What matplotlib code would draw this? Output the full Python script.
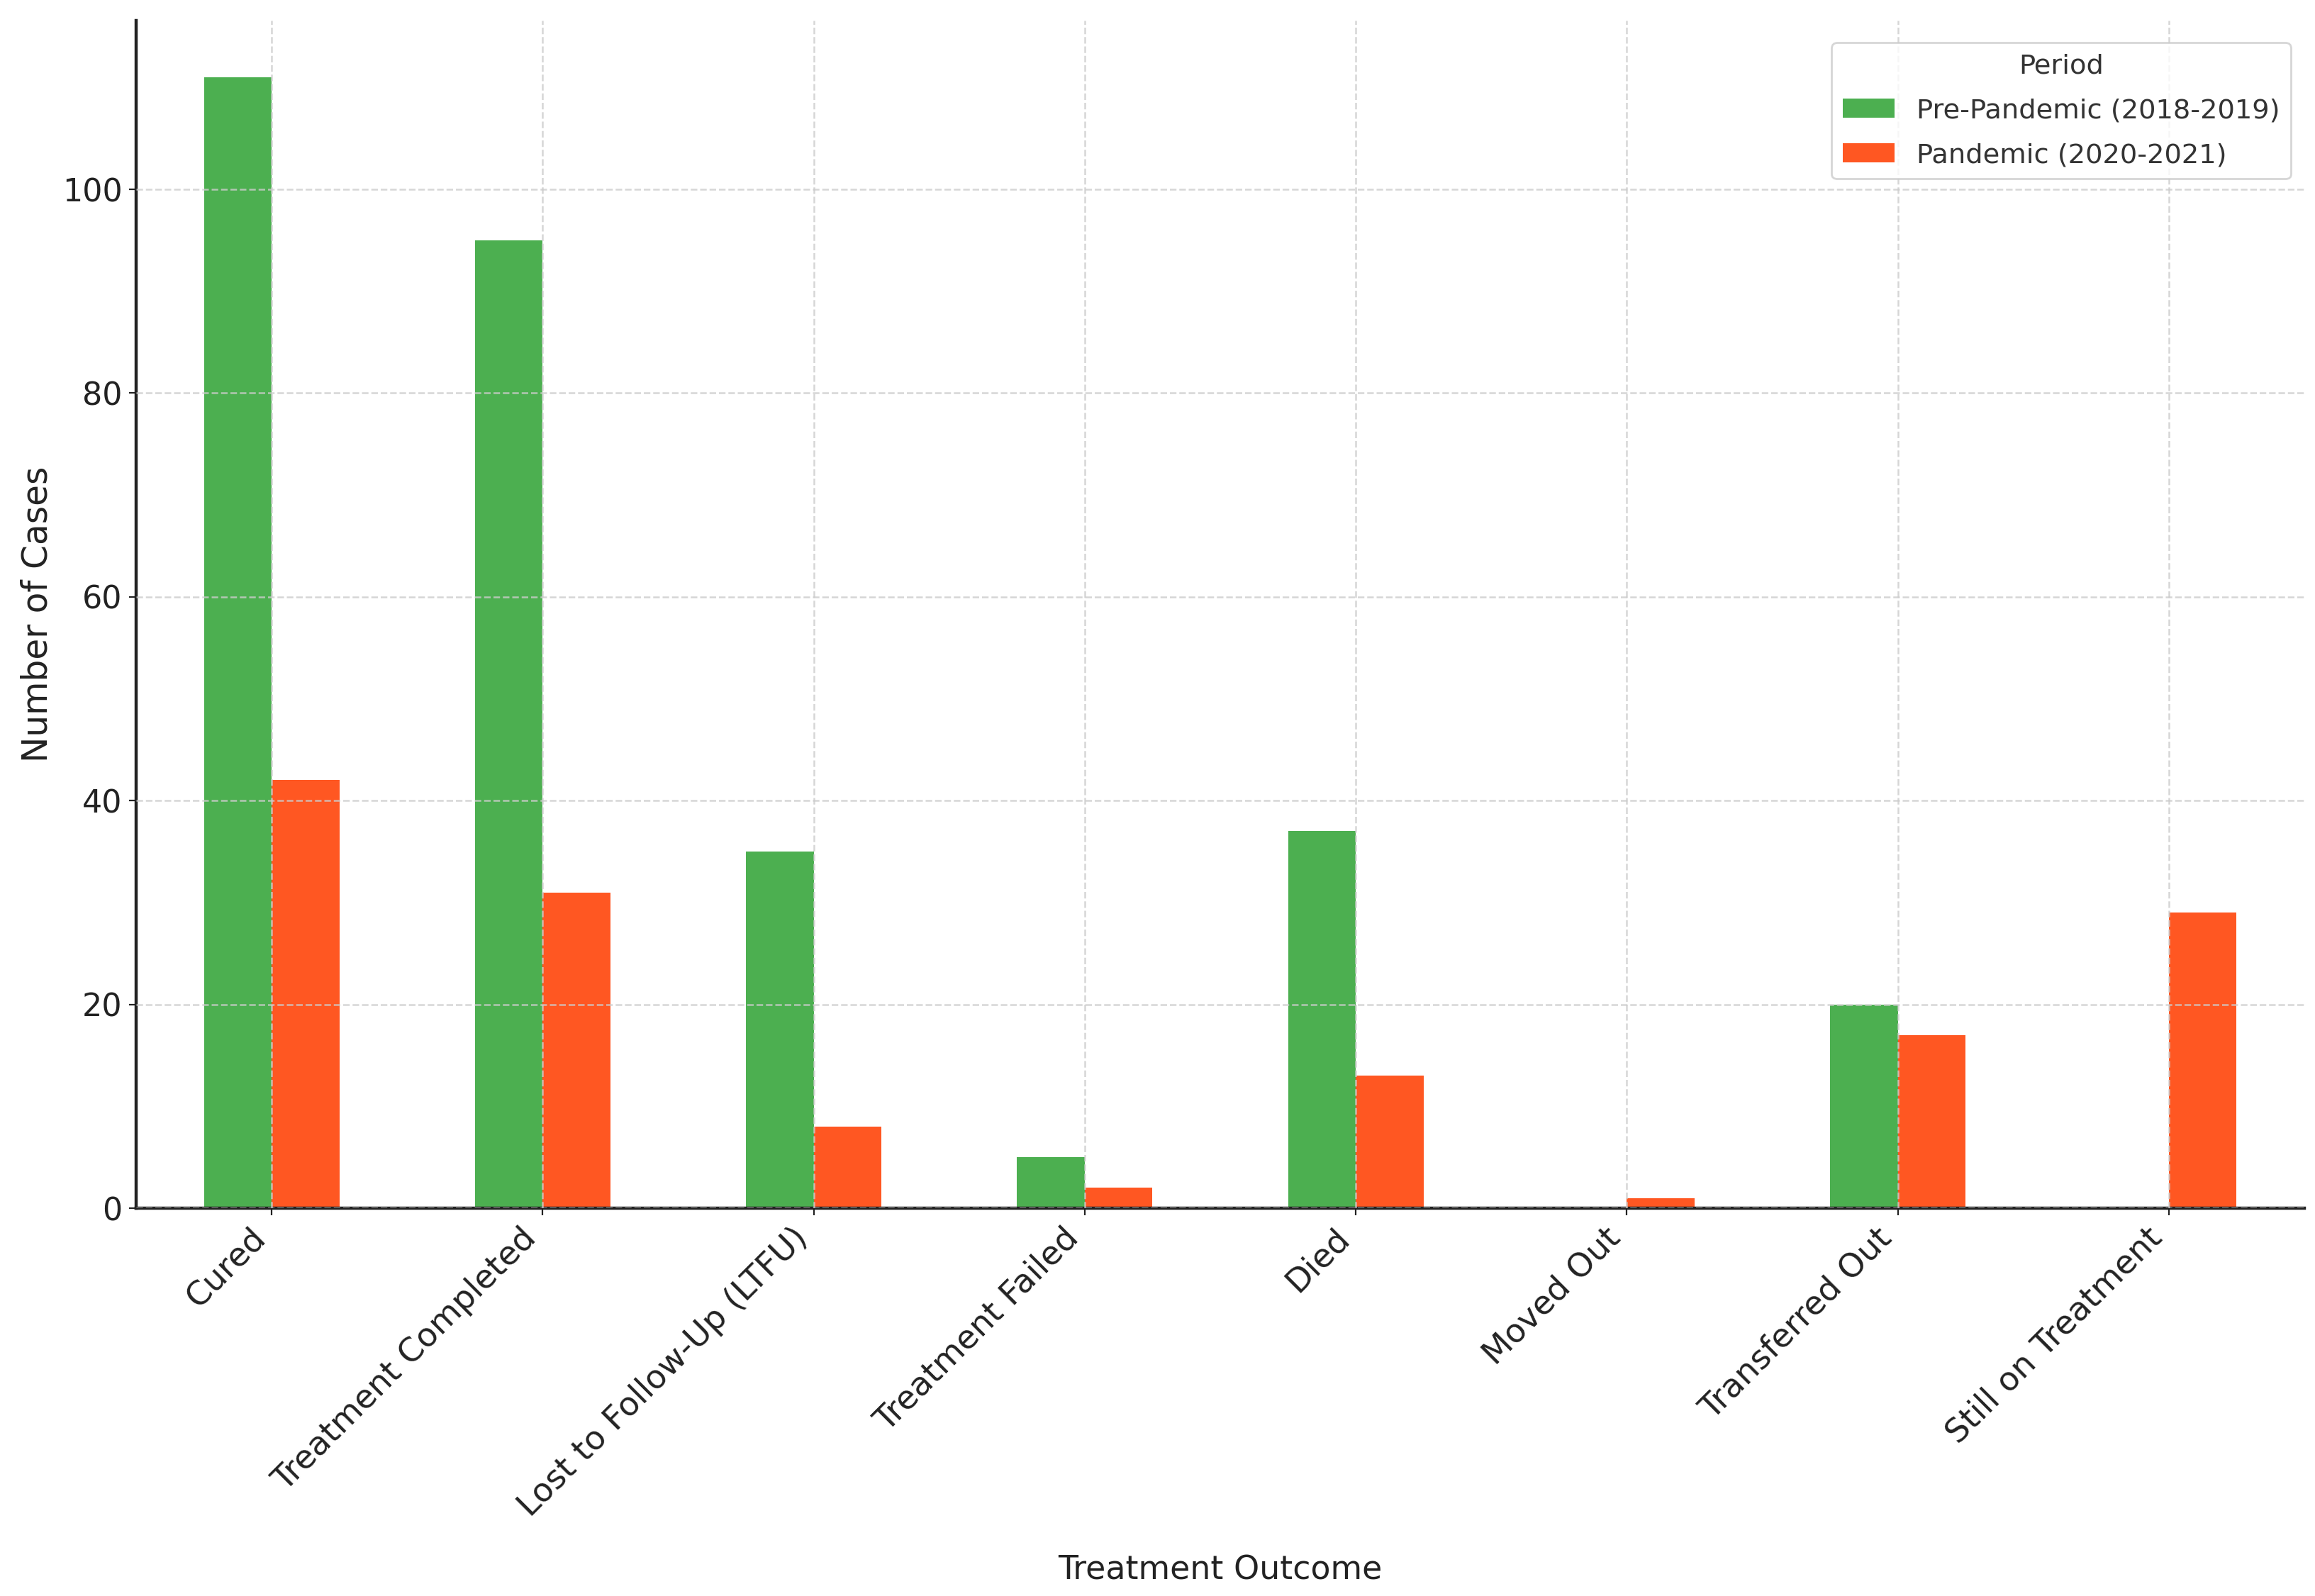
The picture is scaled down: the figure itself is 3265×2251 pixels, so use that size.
import matplotlib
matplotlib.use("Agg")
import matplotlib.pyplot as plt
import numpy as np
import pandas as pd

outcomes = ["Cured", "Treatment Completed", "Lost to Follow-Up (LTFU)", "Treatment Failed",
            "Died", "Moved Out", "Transferred Out", "Still on Treatment"]
pre_pandemic = [111, 95, 35, 5, 37, 0, 20, 0]
pandemic = [42, 31, 8, 2, 13, 1, 17, 29]
series_names = ["Pre-Pandemic (2018-2019)", "Pandemic (2020-2021)"]
colors = ["#4CAF50", "#FF5722"]

df = pd.DataFrame({series_names[0]: pre_pandemic, series_names[1]: pandemic}, index=outcomes)

plt.rcParams['font.family'] = ['DejaVu Sans']

fig = plt.figure(figsize=(16.33, 11.255), dpi=200)
ax = fig.add_axes([0.0588, 0.243, 0.9363, 0.744])

df.plot(kind="bar", ax=ax, color=colors, width=0.5, legend=False)

ax.set_xlabel("Treatment Outcome", fontsize=16.5, color="#222222", labelpad=16)
ax.set_ylabel("Number of Cases", fontsize=17.5, color="#222222")
ax.set_xticklabels(outcomes, rotation=45, ha="right", fontsize=16.7, color="#222222")
ax.tick_params(axis="y", labelsize=16, colors="#222222")
ax.tick_params(axis="x", colors="#222222")

ax.grid(True, linestyle="--", color="#cccccc", linewidth=0.9, alpha=0.8)
ax.set_axisbelow(False)

for s in ["top", "right"]:
    ax.spines[s].set_visible(False)
for s in ["left", "bottom"]:
    ax.spines[s].set_color("#222222")
    ax.spines[s].set_linewidth(1.6)

leg = ax.legend(title="Period", loc="upper right", bbox_to_anchor=(1.0, 0.993),
                fontsize=13.8, title_fontsize=13.8,
                frameon=True, fancybox=True, handlelength=1.9, handletextpad=0.82,
                labelspacing=0.7)
leg.get_frame().set_edgecolor("#cccccc")
for t in leg.get_texts():
    t.set_color("#333333")
leg.get_title().set_color("#333333")

fig.savefig("out.png", dpi=200)
